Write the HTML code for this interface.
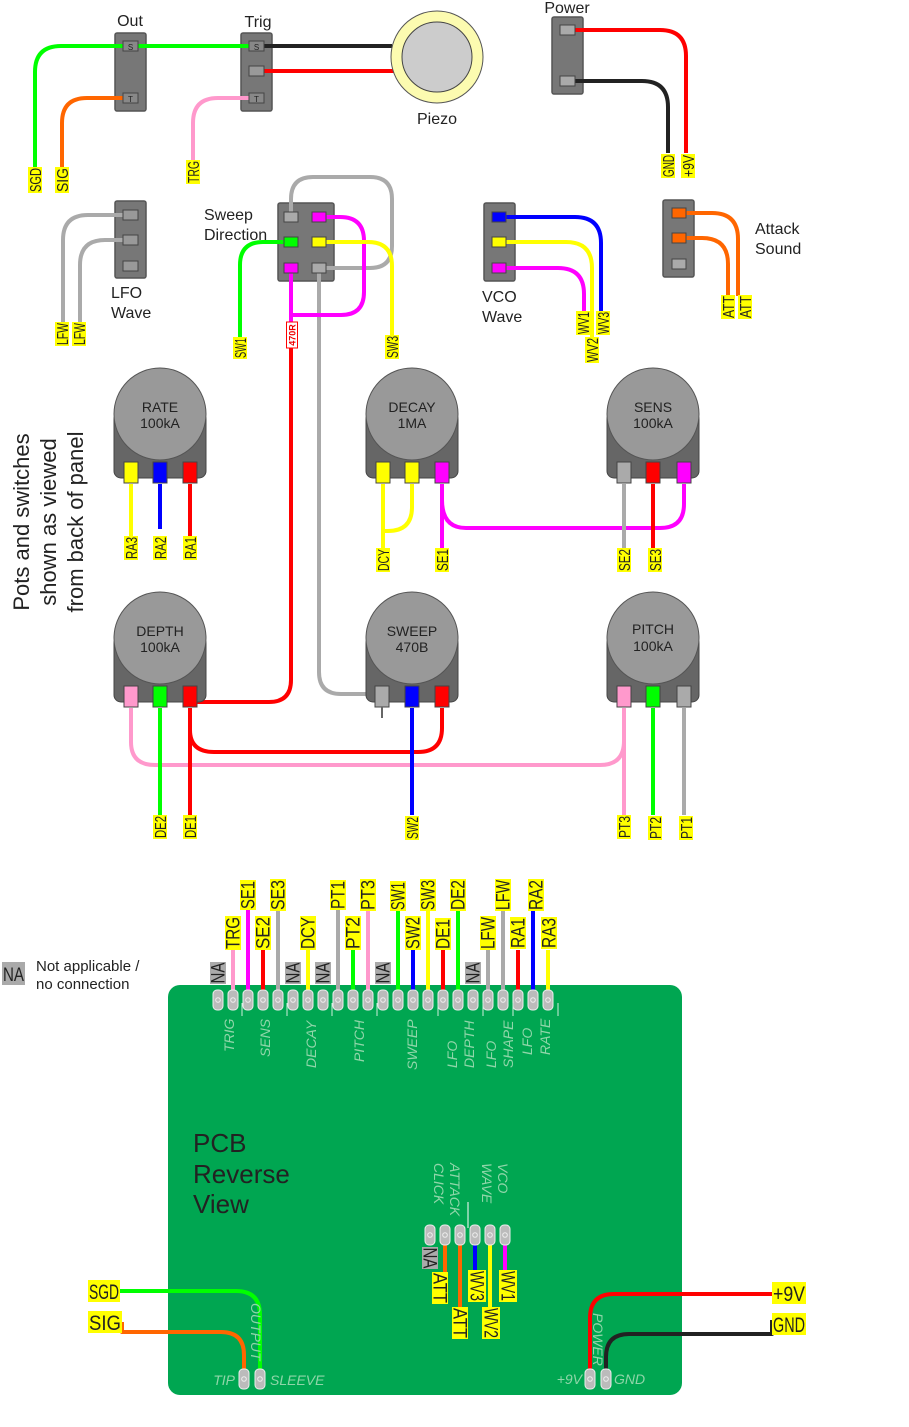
<!DOCTYPE html>
<html><head><meta charset="utf-8"><style>
html,body{margin:0;padding:0;background:#fff;}
svg{display:block;}
.t{font-family:"Liberation Sans",sans-serif;fill:#222;}
.n{font-family:"Liberation Sans Narrow","Liberation Sans",sans-serif;fill:#222;}
.g{font-family:"Liberation Sans",sans-serif;fill:#8fd6a9;font-style:italic;font-size:14px;}
.w{fill:none;stroke-width:4;stroke-linecap:butt;stroke-linejoin:round;}
.sw{fill:#777;stroke:#555;stroke-width:1.5;}
.pin{stroke:#444;stroke-width:1;}
.hp{fill:#bbb;stroke:#eee;stroke-width:1;}
</style></head><body>
<svg width="909" height="1427" viewBox="0 0 909 1427" xmlns="http://www.w3.org/2000/svg">
<defs>
<g id="hpin"><rect class="hp" x="-5" y="-10" width="10" height="20" rx="4"/><circle cx="0" cy="0" r="2.3" fill="none" stroke="#eee" stroke-width="1"/></g>
</defs>

<text class="t" x="130" y="26" font-size="16" text-anchor="middle">Out</text>
<text class="t" x="258" y="27" font-size="16" text-anchor="middle">Trig</text>
<rect class="sw" x="115" y="33" width="31" height="78" rx="2"/>
<rect class="sw" x="241" y="33" width="31" height="78" rx="2"/>
<path class="w" stroke="#00ff00" d="M35,167 V72 Q35,46 61,46 H257"/>
<path class="w" stroke="#ff6600" d="M62,167 V123 Q62,98 87,98 H130"/>
<path class="w" stroke="#ff99cc" d="M193,160 V123 Q193,98 218,98 H257"/>
<path class="w" stroke="#222" d="M257,46 H392"/>
<path class="w" stroke="#ff0000" d="M257,71 H394"/>
<rect x="123" y="41" width="15" height="10" fill="#888" stroke="#444"/><text class="t" x="130.5" y="50" font-size="8" text-anchor="middle">S</text>
<rect x="123" y="93" width="15" height="10" fill="#888" stroke="#444"/><text class="t" x="130.5" y="102" font-size="8" text-anchor="middle">T</text>
<rect x="249" y="41" width="15" height="10" fill="#888" stroke="#444"/><text class="t" x="256.5" y="50" font-size="8" text-anchor="middle">S</text>
<rect x="249" y="66" width="15" height="10" fill="#999" stroke="#444"/>
<rect x="249" y="93" width="15" height="10" fill="#888" stroke="#444"/><text class="t" x="256.5" y="102" font-size="8" text-anchor="middle">T</text>
<circle cx="437" cy="57" r="46" fill="#fcfbb0" stroke="#555" stroke-width="1"/>
<circle cx="437" cy="57" r="35" fill="#cccccc" stroke="#444" stroke-width="1"/>
<text class="t" x="437" y="124" font-size="16" text-anchor="middle">Piezo</text>

<text class="t" x="567" y="13" font-size="16" text-anchor="middle">Power</text>
<rect class="sw" x="552" y="17" width="31" height="77" rx="2"/>
<path class="w" stroke="#ff0000" d="M567,30 H660 Q686,30 686,56 V153"/>
<path class="w" stroke="#222" d="M567,81 H642 Q668,81 668,107 V153"/>
<rect x="560" y="25" width="15" height="10" fill="#aaa" stroke="#444"/>
<rect x="560" y="76" width="15" height="10" fill="#aaa" stroke="#444"/>

<rect class="sw" x="115" y="201" width="31" height="77" rx="2"/>
<path class="w" stroke="#aaa" d="M63,322 V240 Q63,215 88,215 H130"/>
<path class="w" stroke="#aaa" d="M80,322 V265 Q80,240 105,240 H130"/>
<rect x="123" y="210" width="15" height="10" fill="#999" stroke="#444"/>
<rect x="123" y="235" width="15" height="10" fill="#999" stroke="#444"/>
<rect x="123" y="261" width="15" height="10" fill="#999" stroke="#444"/>
<text class="t" x="111" y="298" font-size="16">LFO</text>
<text class="t" x="111" y="318" font-size="16">Wave</text>

<text class="t" x="204" y="220" font-size="16">Sweep</text>
<text class="t" x="204" y="240" font-size="16">Direction</text>
<rect class="sw" x="278" y="203" width="56" height="78" rx="2"/>
<path class="w" stroke="#aaa" d="M291,217 V199 Q291,177 313,177 H370 Q392,177 392,199 V246 Q392,268 370,268 H319"/>
<path class="w" stroke="#aaa" d="M319,268 V672 Q319,694 341,694 H382"/>
<path class="w" stroke="#ff00ff" d="M319,217 H340 Q364,217 364,241 V292 Q364,315 341,315 H291"/>
<path class="w" stroke="#ff00ff" d="M291,268 V322"/>
<path class="w" stroke="#ff0000" d="M291,348 V680 Q291,702 269,702 H190"/>
<path class="w" stroke="#ffff00" d="M319,242 H368 Q392,242 392,266 V336"/>
<path class="w" stroke="#00ff00" d="M291,242 H263 Q240,242 240,265 V338"/>
<rect x="284" y="212" width="14" height="10" fill="#aaa" stroke="#444"/>
<rect x="312" y="212" width="14" height="10" fill="#ff00ff" stroke="#444"/>
<rect x="284" y="237" width="14" height="10" fill="#00ff00" stroke="#444"/>
<rect x="312" y="237" width="14" height="10" fill="#ffff00" stroke="#444"/>
<rect x="284" y="263" width="14" height="10" fill="#ff00ff" stroke="#444"/>
<rect x="312" y="263" width="14" height="10" fill="#aaa" stroke="#444"/>
<g transform="translate(292,335) rotate(-90)"><rect x="-13" y="-5.5" width="26" height="11" fill="#fff" stroke="#f00" stroke-width="1"/><text x="0" y="3.5" font-size="9" font-weight="bold" fill="#e00" font-family="Liberation Sans Narrow,Liberation Sans,sans-serif" text-anchor="middle">470R</text></g>

<rect class="sw" x="484" y="203" width="31" height="78" rx="2"/>
<path class="w" stroke="#0000ff" d="M499,217 H575 Q601,217 601,243 V312"/>
<path class="w" stroke="#ffff00" d="M499,242 H566 Q592,242 592,268 V339"/>
<path class="w" stroke="#ff00ff" d="M499,268 H558 Q584,268 584,294 V312"/>
<rect x="492" y="212" width="14" height="10" fill="#0000ff" stroke="#444"/>
<rect x="492" y="237" width="14" height="10" fill="#ffff00" stroke="#444"/>
<rect x="492" y="263" width="14" height="10" fill="#ff00ff" stroke="#444"/>
<text class="t" x="482" y="302" font-size="16">VCO</text>
<text class="t" x="482" y="322" font-size="16">Wave</text>

<rect class="sw" x="663" y="200" width="31" height="77" rx="2"/>
<path class="w" stroke="#ff6600" d="M679,213 H712 Q738,213 738,239 V296"/>
<path class="w" stroke="#ff6600" d="M679,238 H702 Q728,238 728,264 V296"/>
<rect x="672" y="208" width="14" height="10" fill="#ff6600" stroke="#444"/>
<rect x="672" y="233" width="14" height="10" fill="#ff6600" stroke="#444"/>
<rect x="672" y="259" width="14" height="10" fill="#aaa" stroke="#444"/>
<text class="t" x="755" y="234" font-size="16">Attack</text>
<text class="t" x="755" y="254" font-size="16">Sound</text>

<g transform="translate(29,522) rotate(-90)"><text class="t" x="0" y="0" font-size="22" text-anchor="middle">Pots and switches</text></g>
<g transform="translate(56,522) rotate(-90)"><text class="t" x="0" y="0" font-size="22" text-anchor="middle">shown as viewed</text></g>
<g transform="translate(83,522) rotate(-90)"><text class="t" x="0" y="0" font-size="22" text-anchor="middle">from back of panel</text></g>

<path class="w" stroke="#ffff00" d="M131,484 V536"/>
<path class="w" stroke="#0000ff" d="M160,484 V529"/>
<path class="w" stroke="#ff0000" d="M190,484 V536"/>
<path class="w" stroke="#ffff00" d="M383,484 V548"/>
<path class="w" stroke="#ffff00" d="M412,484 V507 Q412,531 388,531 H383"/>
<path class="w" stroke="#ff00ff" d="M442,484 V548"/>
<path class="w" stroke="#ff00ff" d="M442,500 Q442,528 466,528 H660 Q684,528 684,504 V484"/>
<path class="w" stroke="#aaa" d="M624,484 V548"/>
<path class="w" stroke="#ff0000" d="M653,484 V548"/>

<path class="w" stroke="#ff99cc" d="M131,708 V742 Q131,765 155,765 H600 Q624,765 624,741 V708"/>
<path class="w" stroke="#ff99cc" d="M624,740 V815"/>
<path class="w" stroke="#00ff00" d="M160,708 V815"/>
<path class="w" stroke="#ff0000" d="M190,708 V815"/>
<path class="w" stroke="#ff0000" d="M190,730 Q190,752 214,752 H418 Q442,752 442,728 V708"/>
<path class="w" stroke="#0000ff" d="M412,708 V815"/>
<path class="w" stroke="#00ff00" d="M653,708 V815"/>
<path class="w" stroke="#aaa" d="M684,708 V815"/>

<rect x="114" y="412" width="92" height="66" rx="7" fill="#666" stroke="#444"/>
<circle cx="160" cy="414" r="46" fill="#999" stroke="#555"/>
<text class="t" x="160" y="412" font-size="14" text-anchor="middle" fill="#333">RATE</text>
<text class="t" x="160" y="428" font-size="14" text-anchor="middle" fill="#333">100kA</text>
<rect class="pin" x="124" y="462" width="14" height="21" fill="#ffff00"/>
<rect class="pin" x="153" y="462" width="14" height="21" fill="#0000ff"/>
<rect class="pin" x="183" y="462" width="14" height="21" fill="#ff0000"/>
<rect x="366" y="412" width="92" height="66" rx="7" fill="#666" stroke="#444"/>
<circle cx="412" cy="414" r="46" fill="#999" stroke="#555"/>
<text class="t" x="412" y="412" font-size="14" text-anchor="middle" fill="#333">DECAY</text>
<text class="t" x="412" y="428" font-size="14" text-anchor="middle" fill="#333">1MA</text>
<rect class="pin" x="376" y="462" width="14" height="21" fill="#ffff00"/>
<rect class="pin" x="405" y="462" width="14" height="21" fill="#ffff00"/>
<rect class="pin" x="435" y="462" width="14" height="21" fill="#ff00ff"/>
<rect x="607" y="412" width="92" height="66" rx="7" fill="#666" stroke="#444"/>
<circle cx="653" cy="414" r="46" fill="#999" stroke="#555"/>
<text class="t" x="653" y="412" font-size="14" text-anchor="middle" fill="#333">SENS</text>
<text class="t" x="653" y="428" font-size="14" text-anchor="middle" fill="#333">100kA</text>
<rect class="pin" x="617" y="462" width="14" height="21" fill="#aaa"/>
<rect class="pin" x="646" y="462" width="14" height="21" fill="#ff0000"/>
<rect class="pin" x="677" y="462" width="14" height="21" fill="#ff00ff"/>
<rect x="114" y="636" width="92" height="66" rx="7" fill="#666" stroke="#444"/>
<circle cx="160" cy="638" r="46" fill="#999" stroke="#555"/>
<text class="t" x="160" y="636" font-size="14" text-anchor="middle" fill="#333">DEPTH</text>
<text class="t" x="160" y="652" font-size="14" text-anchor="middle" fill="#333">100kA</text>
<rect class="pin" x="124" y="686" width="14" height="21" fill="#ff99cc"/>
<rect class="pin" x="153" y="686" width="14" height="21" fill="#00ff00"/>
<rect class="pin" x="183" y="686" width="14" height="21" fill="#ff0000"/>
<rect x="366" y="636" width="92" height="66" rx="7" fill="#666" stroke="#444"/>
<circle cx="412" cy="638" r="46" fill="#999" stroke="#555"/>
<text class="t" x="412" y="636" font-size="14" text-anchor="middle" fill="#333">SWEEP</text>
<text class="t" x="412" y="652" font-size="14" text-anchor="middle" fill="#333">470B</text>
<rect class="pin" x="375" y="686" width="14" height="21" fill="#aaa"/>
<line x1="382" y1="707" x2="382" y2="718" stroke="#666" stroke-width="2"/>
<rect class="pin" x="405" y="686" width="14" height="21" fill="#0000ff"/>
<rect class="pin" x="435" y="686" width="14" height="21" fill="#ff0000"/>
<rect x="607" y="636" width="92" height="66" rx="7" fill="#666" stroke="#444"/>
<circle cx="653" cy="638" r="46" fill="#999" stroke="#555"/>
<text class="t" x="653" y="634" font-size="14" text-anchor="middle" fill="#333">PITCH</text>
<text class="t" x="653" y="651" font-size="14" text-anchor="middle" fill="#333">100kA</text>
<rect class="pin" x="617" y="686" width="14" height="21" fill="#ff99cc"/>
<rect class="pin" x="646" y="686" width="14" height="21" fill="#00ff00"/>
<rect class="pin" x="677" y="686" width="14" height="21" fill="#aaa"/>

<g font-family="Liberation Sans Narrow,Liberation Sans,sans-serif" font-size="16" fill="#222">
<g transform="translate(35,180) rotate(-90)"><rect x="-13" y="-7" width="26" height="14" fill="#ffff00"/><text x="0" y="6" text-anchor="middle" textLength="24" lengthAdjust="spacingAndGlyphs">SGD</text></g>
<g transform="translate(62,180) rotate(-90)"><rect x="-13" y="-7" width="26" height="14" fill="#ffff00"/><text x="0" y="6" text-anchor="middle" textLength="24" lengthAdjust="spacingAndGlyphs">SIG</text></g>
<g transform="translate(193,172) rotate(-90)"><rect x="-12" y="-7" width="24" height="14" fill="#ffff00"/><text x="0" y="6" text-anchor="middle" textLength="22" lengthAdjust="spacingAndGlyphs">TRG</text></g>
<g transform="translate(668,166) rotate(-90)"><rect x="-12" y="-7" width="24" height="14" fill="#ffff00"/><text x="0" y="6" text-anchor="middle" textLength="22" lengthAdjust="spacingAndGlyphs">GND</text></g>
<g transform="translate(688,166) rotate(-90)"><rect x="-12" y="-7" width="24" height="14" fill="#ffff00"/><text x="0" y="6" text-anchor="middle" textLength="22" lengthAdjust="spacingAndGlyphs">+9V</text></g>
<g transform="translate(62,334) rotate(-90)"><rect x="-12" y="-7" width="24" height="14" fill="#ffff00"/><text x="0" y="6" text-anchor="middle" textLength="22" lengthAdjust="spacingAndGlyphs">LFW</text></g>
<g transform="translate(79,334) rotate(-90)"><rect x="-12" y="-7" width="24" height="14" fill="#ffff00"/><text x="0" y="6" text-anchor="middle" textLength="22" lengthAdjust="spacingAndGlyphs">LFW</text></g>
<g transform="translate(240,348) rotate(-90)"><rect x="-11" y="-7" width="22" height="14" fill="#ffff00"/><text x="0" y="6" text-anchor="middle" textLength="20" lengthAdjust="spacingAndGlyphs">SW1</text></g>
<g transform="translate(392,347) rotate(-90)"><rect x="-12" y="-7" width="24" height="14" fill="#ffff00"/><text x="0" y="6" text-anchor="middle" textLength="22" lengthAdjust="spacingAndGlyphs">SW3</text></g>
<g transform="translate(583,323) rotate(-90)"><rect x="-12" y="-7" width="24" height="14" fill="#ffff00"/><text x="0" y="6" text-anchor="middle" textLength="22" lengthAdjust="spacingAndGlyphs">WV1</text></g>
<g transform="translate(592,350) rotate(-90)"><rect x="-13" y="-7" width="26" height="14" fill="#ffff00"/><text x="0" y="6" text-anchor="middle" textLength="24" lengthAdjust="spacingAndGlyphs">WV2</text></g>
<g transform="translate(603,323) rotate(-90)"><rect x="-12" y="-7" width="24" height="14" fill="#ffff00"/><text x="0" y="6" text-anchor="middle" textLength="22" lengthAdjust="spacingAndGlyphs">WV3</text></g>
<g transform="translate(728,307) rotate(-90)"><rect x="-12" y="-7" width="24" height="14" fill="#ffff00"/><text x="0" y="6" text-anchor="middle" textLength="22" lengthAdjust="spacingAndGlyphs">ATT</text></g>
<g transform="translate(745,307) rotate(-90)"><rect x="-12" y="-7" width="24" height="14" fill="#ffff00"/><text x="0" y="6" text-anchor="middle" textLength="22" lengthAdjust="spacingAndGlyphs">ATT</text></g>

<g transform="translate(131,548) rotate(-90)"><rect x="-12" y="-7" width="24" height="14" fill="#ffff00"/><text x="0" y="6" text-anchor="middle" textLength="22" lengthAdjust="spacingAndGlyphs">RA3</text></g>
<g transform="translate(160,548) rotate(-90)"><rect x="-12" y="-7" width="24" height="14" fill="#ffff00"/><text x="0" y="6" text-anchor="middle" textLength="22" lengthAdjust="spacingAndGlyphs">RA2</text></g>
<g transform="translate(190,548) rotate(-90)"><rect x="-12" y="-7" width="24" height="14" fill="#ffff00"/><text x="0" y="6" text-anchor="middle" textLength="22" lengthAdjust="spacingAndGlyphs">RA1</text></g>
<g transform="translate(383,560) rotate(-90)"><rect x="-12" y="-7" width="24" height="14" fill="#ffff00"/><text x="0" y="6" text-anchor="middle" textLength="22" lengthAdjust="spacingAndGlyphs">DCY</text></g>
<g transform="translate(442,560) rotate(-90)"><rect x="-12" y="-7" width="24" height="14" fill="#ffff00"/><text x="0" y="6" text-anchor="middle" textLength="22" lengthAdjust="spacingAndGlyphs">SE1</text></g>
<g transform="translate(624,560) rotate(-90)"><rect x="-12" y="-7" width="24" height="14" fill="#ffff00"/><text x="0" y="6" text-anchor="middle" textLength="22" lengthAdjust="spacingAndGlyphs">SE2</text></g>
<g transform="translate(655,560) rotate(-90)"><rect x="-12" y="-7" width="24" height="14" fill="#ffff00"/><text x="0" y="6" text-anchor="middle" textLength="22" lengthAdjust="spacingAndGlyphs">SE3</text></g>
<g transform="translate(160,827) rotate(-90)"><rect x="-12" y="-7" width="24" height="14" fill="#ffff00"/><text x="0" y="6" text-anchor="middle" textLength="22" lengthAdjust="spacingAndGlyphs">DE2</text></g>
<g transform="translate(190,827) rotate(-90)"><rect x="-12" y="-7" width="24" height="14" fill="#ffff00"/><text x="0" y="6" text-anchor="middle" textLength="22" lengthAdjust="spacingAndGlyphs">DE1</text></g>
<g transform="translate(412,828) rotate(-90)"><rect x="-12" y="-7" width="24" height="14" fill="#ffff00"/><text x="0" y="6" text-anchor="middle" textLength="22" lengthAdjust="spacingAndGlyphs">SW2</text></g>
<g transform="translate(624,827) rotate(-90)"><rect x="-12" y="-7" width="24" height="14" fill="#ffff00"/><text x="0" y="6" text-anchor="middle" textLength="22" lengthAdjust="spacingAndGlyphs">PT3</text></g>
<g transform="translate(655,828) rotate(-90)"><rect x="-12" y="-7" width="24" height="14" fill="#ffff00"/><text x="0" y="6" text-anchor="middle" textLength="22" lengthAdjust="spacingAndGlyphs">PT2</text></g>
<g transform="translate(686,828) rotate(-90)"><rect x="-12" y="-7" width="24" height="14" fill="#ffff00"/><text x="0" y="6" text-anchor="middle" textLength="22" lengthAdjust="spacingAndGlyphs">PT1</text></g>
</g>

<rect x="2" y="962" width="23" height="23" fill="#aaa"/>
<text class="n" x="13.5" y="981" font-size="19" text-anchor="middle" textLength="21" lengthAdjust="spacingAndGlyphs">NA</text>
<text class="t" x="36" y="971" font-size="15">Not applicable /</text>
<text class="t" x="36" y="989" font-size="15">no connection</text>

<rect x="168" y="985" width="514" height="410" rx="12" fill="#00a651"/>

<g stroke-width="4">
<line x1="233" y1="950" x2="233" y2="992" stroke="#ff99cc"/>
<line x1="248" y1="910" x2="248" y2="992" stroke="#ff00ff"/>
<line x1="263" y1="950" x2="263" y2="992" stroke="#ff0000"/>
<line x1="278" y1="910" x2="278" y2="992" stroke="#aaa"/>
<line x1="308" y1="950" x2="308" y2="992" stroke="#ffff00"/>
<line x1="338" y1="910" x2="338" y2="992" stroke="#aaa"/>
<line x1="353" y1="950" x2="353" y2="992" stroke="#00ff00"/>
<line x1="368" y1="910" x2="368" y2="992" stroke="#ff99cc"/>
<line x1="398" y1="910" x2="398" y2="992" stroke="#00ff00"/>
<line x1="413" y1="950" x2="413" y2="992" stroke="#0000ff"/>
<line x1="428" y1="910" x2="428" y2="992" stroke="#ffff00"/>
<line x1="443" y1="950" x2="443" y2="992" stroke="#ff0000"/>
<line x1="458" y1="910" x2="458" y2="992" stroke="#00ff00"/>
<line x1="488" y1="950" x2="488" y2="992" stroke="#aaa"/>
<line x1="503" y1="910" x2="503" y2="992" stroke="#aaa"/>
<line x1="518" y1="950" x2="518" y2="992" stroke="#ff0000"/>
<line x1="533" y1="910" x2="533" y2="992" stroke="#0000ff"/>
<line x1="548" y1="950" x2="548" y2="992" stroke="#ffff00"/>
</g>
<g>
<use href="#hpin" x="218" y="1000"/><use href="#hpin" x="233" y="1000"/><use href="#hpin" x="248" y="1000"/><use href="#hpin" x="263" y="1000"/><use href="#hpin" x="278" y="1000"/><use href="#hpin" x="293" y="1000"/><use href="#hpin" x="308" y="1000"/><use href="#hpin" x="323" y="1000"/><use href="#hpin" x="338" y="1000"/><use href="#hpin" x="353" y="1000"/><use href="#hpin" x="368" y="1000"/><use href="#hpin" x="383" y="1000"/><use href="#hpin" x="398" y="1000"/><use href="#hpin" x="413" y="1000"/><use href="#hpin" x="428" y="1000"/><use href="#hpin" x="443" y="1000"/><use href="#hpin" x="458" y="1000"/><use href="#hpin" x="473" y="1000"/><use href="#hpin" x="488" y="1000"/><use href="#hpin" x="503" y="1000"/><use href="#hpin" x="518" y="1000"/><use href="#hpin" x="533" y="1000"/><use href="#hpin" x="548" y="1000"/>
</g>
<g stroke="#cfeedd" stroke-width="1">
<line x1="242" y1="1003" x2="242" y2="1016"/><line x1="287" y1="1003" x2="287" y2="1016"/><line x1="332" y1="1003" x2="332" y2="1016"/><line x1="377" y1="1003" x2="377" y2="1016"/><line x1="438" y1="1003" x2="438" y2="1016"/><line x1="483" y1="1003" x2="483" y2="1016"/><line x1="513" y1="1003" x2="513" y2="1016"/><line x1="558" y1="1003" x2="558" y2="1016"/>
</g>
<text class="g" transform="translate(234,1052) rotate(-90)">TRIG</text>
<text class="g" transform="translate(270,1057) rotate(-90)">SENS</text>
<text class="g" transform="translate(316,1068) rotate(-90)">DECAY</text>
<text class="g" transform="translate(364,1062) rotate(-90)">PITCH</text>
<text class="g" transform="translate(417,1070) rotate(-90)">SWEEP</text>
<text class="g" transform="translate(457,1068) rotate(-90)">LFO</text>
<text class="g" transform="translate(474,1068) rotate(-90)">DEPTH</text>
<text class="g" transform="translate(496,1068) rotate(-90)">LFO</text>
<text class="g" transform="translate(513,1068) rotate(-90)">SHAPE</text>
<text class="g" transform="translate(532,1055) rotate(-90)">LFO</text>
<text class="g" transform="translate(550,1055) rotate(-90)">RATE</text>

<g font-family="Liberation Sans Narrow,Liberation Sans,sans-serif" font-size="19" fill="#222">
<g transform="translate(218,973) rotate(-90)"><rect x="-11" y="-8" width="22" height="16" fill="#aaa"/><text x="0" y="6.5" text-anchor="middle" textLength="21" lengthAdjust="spacingAndGlyphs">NA</text></g>
<g transform="translate(293,973) rotate(-90)"><rect x="-11" y="-8" width="22" height="16" fill="#aaa"/><text x="0" y="6.5" text-anchor="middle" textLength="21" lengthAdjust="spacingAndGlyphs">NA</text></g>
<g transform="translate(323,973) rotate(-90)"><rect x="-11" y="-8" width="22" height="16" fill="#aaa"/><text x="0" y="6.5" text-anchor="middle" textLength="21" lengthAdjust="spacingAndGlyphs">NA</text></g>
<g transform="translate(383,973) rotate(-90)"><rect x="-11" y="-8" width="22" height="16" fill="#aaa"/><text x="0" y="6.5" text-anchor="middle" textLength="21" lengthAdjust="spacingAndGlyphs">NA</text></g>
<g transform="translate(473,973) rotate(-90)"><rect x="-11" y="-8" width="22" height="16" fill="#aaa"/><text x="0" y="6.5" text-anchor="middle" textLength="21" lengthAdjust="spacingAndGlyphs">NA</text></g>

<g transform="translate(233,933) rotate(-90)"><rect x="-17" y="-8" width="34" height="16" fill="#ffff00"/><text x="0" y="6.5" text-anchor="middle" textLength="32" lengthAdjust="spacingAndGlyphs">TRG</text></g>
<g transform="translate(248,895) rotate(-90)"><rect x="-15" y="-8" width="30" height="16" fill="#ffff00"/><text x="0" y="6.5" text-anchor="middle" textLength="28" lengthAdjust="spacingAndGlyphs">SE1</text></g>
<g transform="translate(263,933) rotate(-90)"><rect x="-17" y="-8" width="34" height="16" fill="#ffff00"/><text x="0" y="6.5" text-anchor="middle" textLength="32" lengthAdjust="spacingAndGlyphs">SE2</text></g>
<g transform="translate(278,895) rotate(-90)"><rect x="-16" y="-8" width="32" height="16" fill="#ffff00"/><text x="0" y="6.5" text-anchor="middle" textLength="30" lengthAdjust="spacingAndGlyphs">SE3</text></g>
<g transform="translate(308,933) rotate(-90)"><rect x="-17" y="-8" width="34" height="16" fill="#ffff00"/><text x="0" y="6.5" text-anchor="middle" textLength="32" lengthAdjust="spacingAndGlyphs">DCY</text></g>
<g transform="translate(338,895) rotate(-90)"><rect x="-15" y="-8" width="30" height="16" fill="#ffff00"/><text x="0" y="6.5" text-anchor="middle" textLength="28" lengthAdjust="spacingAndGlyphs">PT1</text></g>
<g transform="translate(353,933) rotate(-90)"><rect x="-17" y="-8" width="34" height="16" fill="#ffff00"/><text x="0" y="6.5" text-anchor="middle" textLength="32" lengthAdjust="spacingAndGlyphs">PT2</text></g>
<g transform="translate(368,895) rotate(-90)"><rect x="-16" y="-8" width="32" height="16" fill="#ffff00"/><text x="0" y="6.5" text-anchor="middle" textLength="30" lengthAdjust="spacingAndGlyphs">PT3</text></g>
<g transform="translate(398,896) rotate(-90)"><rect x="-15" y="-8" width="30" height="16" fill="#ffff00"/><text x="0" y="6.5" text-anchor="middle" textLength="28" lengthAdjust="spacingAndGlyphs">SW1</text></g>
<g transform="translate(413,933) rotate(-90)"><rect x="-17" y="-8" width="34" height="16" fill="#ffff00"/><text x="0" y="6.5" text-anchor="middle" textLength="32" lengthAdjust="spacingAndGlyphs">SW2</text></g>
<g transform="translate(428,895) rotate(-90)"><rect x="-16" y="-8" width="32" height="16" fill="#ffff00"/><text x="0" y="6.5" text-anchor="middle" textLength="30" lengthAdjust="spacingAndGlyphs">SW3</text></g>
<g transform="translate(443,934) rotate(-90)"><rect x="-16" y="-8" width="32" height="16" fill="#ffff00"/><text x="0" y="6.5" text-anchor="middle" textLength="30" lengthAdjust="spacingAndGlyphs">DE1</text></g>
<g transform="translate(458,895) rotate(-90)"><rect x="-16" y="-8" width="32" height="16" fill="#ffff00"/><text x="0" y="6.5" text-anchor="middle" textLength="30" lengthAdjust="spacingAndGlyphs">DE2</text></g>
<g transform="translate(488,933) rotate(-90)"><rect x="-17" y="-8" width="34" height="16" fill="#ffff00"/><text x="0" y="6.5" text-anchor="middle" textLength="32" lengthAdjust="spacingAndGlyphs">LFW</text></g>
<g transform="translate(503,895) rotate(-90)"><rect x="-16" y="-8" width="32" height="16" fill="#ffff00"/><text x="0" y="6.5" text-anchor="middle" textLength="30" lengthAdjust="spacingAndGlyphs">LFW</text></g>
<g transform="translate(518,933) rotate(-90)"><rect x="-16" y="-8" width="32" height="16" fill="#ffff00"/><text x="0" y="6.5" text-anchor="middle" textLength="30" lengthAdjust="spacingAndGlyphs">RA1</text></g>
<g transform="translate(536,895) rotate(-90)"><rect x="-16" y="-8" width="32" height="16" fill="#ffff00"/><text x="0" y="6.5" text-anchor="middle" textLength="30" lengthAdjust="spacingAndGlyphs">RA2</text></g>
<g transform="translate(549,933) rotate(-90)"><rect x="-16" y="-8" width="32" height="16" fill="#ffff00"/><text x="0" y="6.5" text-anchor="middle" textLength="30" lengthAdjust="spacingAndGlyphs">RA3</text></g>
</g>

<text class="t" x="193" y="1152" font-size="26">PCB</text>
<text class="t" x="193" y="1183" font-size="26">Reverse</text>
<text class="t" x="193" y="1213" font-size="26">View</text>

<text class="g" transform="translate(434,1163) rotate(90)">CLICK</text>
<text class="g" transform="translate(450,1163) rotate(90)">ATTACK</text>
<text class="g" transform="translate(482,1163) rotate(90)">WAVE</text>
<text class="g" transform="translate(498,1163) rotate(90)">VCO</text>
<line x1="468" y1="1202" x2="468" y2="1228" stroke="#fff" stroke-width="1"/>
<g stroke-width="4">
<line x1="445" y1="1240" x2="445" y2="1272" stroke="#ff6600"/>
<line x1="460" y1="1240" x2="460" y2="1307" stroke="#ff6600"/>
<line x1="475" y1="1240" x2="475" y2="1272" stroke="#0000ff"/>
<line x1="490" y1="1240" x2="490" y2="1308" stroke="#ffff00"/>
<line x1="505" y1="1240" x2="505" y2="1272" stroke="#ff00ff"/>
</g>
<use href="#hpin" x="430" y="1235"/><use href="#hpin" x="445" y="1235"/><use href="#hpin" x="460" y="1235"/><use href="#hpin" x="475" y="1235"/><use href="#hpin" x="490" y="1235"/><use href="#hpin" x="505" y="1235"/>
<g font-family="Liberation Sans Narrow,Liberation Sans,sans-serif" font-size="19" fill="#222">
<g transform="translate(430,1258) rotate(90)"><rect x="-11" y="-8" width="22" height="16" fill="#aaa"/><text x="0" y="6.5" text-anchor="middle" textLength="21" lengthAdjust="spacingAndGlyphs">NA</text></g>
<g transform="translate(440,1288) rotate(90)"><rect x="-16" y="-8" width="32" height="16" fill="#ffff00"/><text x="0" y="6.5" text-anchor="middle" textLength="30" lengthAdjust="spacingAndGlyphs">ATT</text></g>
<g transform="translate(460,1323) rotate(90)"><rect x="-16" y="-8" width="32" height="16" fill="#ffff00"/><text x="0" y="6.5" text-anchor="middle" textLength="30" lengthAdjust="spacingAndGlyphs">ATT</text></g>
<g transform="translate(477,1286) rotate(90)"><rect x="-16" y="-9" width="32" height="18" fill="#ffff00"/><text x="0" y="6.5" text-anchor="middle" textLength="30" lengthAdjust="spacingAndGlyphs">WV3</text></g>
<g transform="translate(491,1323) rotate(90)"><rect x="-16" y="-9" width="32" height="18" fill="#ffff00"/><text x="0" y="6.5" text-anchor="middle" textLength="30" lengthAdjust="spacingAndGlyphs">WV2</text></g>
<g transform="translate(508,1286) rotate(90)"><rect x="-16" y="-9" width="32" height="18" fill="#ffff00"/><text x="0" y="6.5" text-anchor="middle" textLength="30" lengthAdjust="spacingAndGlyphs">WV1</text></g>
</g>

<path class="w" stroke="#00ff00" d="M120,1291 H236 Q260,1291 260,1315 V1372"/>
<path class="w" stroke="#ff6600" d="M122,1322 V1332 H221 Q244,1332 244,1355 V1372"/>
<use href="#hpin" x="244" y="1379"/><use href="#hpin" x="260" y="1379"/>
<text class="g" transform="translate(251,1303) rotate(90)">OUTPUT</text>
<text class="g" x="235" y="1385" text-anchor="end">TIP</text>
<text class="g" x="270" y="1385">SLEEVE</text>
<rect x="88" y="1280" width="32" height="22" fill="#ffff00"/>
<text class="n" x="104" y="1299" font-size="21" text-anchor="middle" textLength="30" lengthAdjust="spacingAndGlyphs">SGD</text>
<rect x="88" y="1311" width="34" height="22" fill="#ffff00"/>
<text class="n" x="105" y="1330" font-size="21" text-anchor="middle" textLength="32" lengthAdjust="spacingAndGlyphs">SIG</text>

<path class="w" stroke="#ff0000" d="M773,1294 H614 Q590,1294 590,1318 V1372"/>
<path class="w" stroke="#222" d="M772,1320 V1334 H629 Q606,1334 606,1357 V1372"/>
<use href="#hpin" x="590" y="1379"/><use href="#hpin" x="606" y="1379"/>
<text class="g" transform="translate(593,1313) rotate(90)">POWER</text>
<text class="g" x="582" y="1384" text-anchor="end">+9V</text>
<text class="g" x="614" y="1384">GND</text>
<rect x="772" y="1282" width="34" height="22" fill="#ffff00"/>
<text class="n" x="789" y="1301" font-size="21" text-anchor="middle" textLength="32" lengthAdjust="spacingAndGlyphs">+9V</text>
<rect x="772" y="1313" width="34" height="22" fill="#ffff00"/>
<text class="n" x="789" y="1332" font-size="21" text-anchor="middle" textLength="32" lengthAdjust="spacingAndGlyphs">GND</text>
</svg>
</body></html>
